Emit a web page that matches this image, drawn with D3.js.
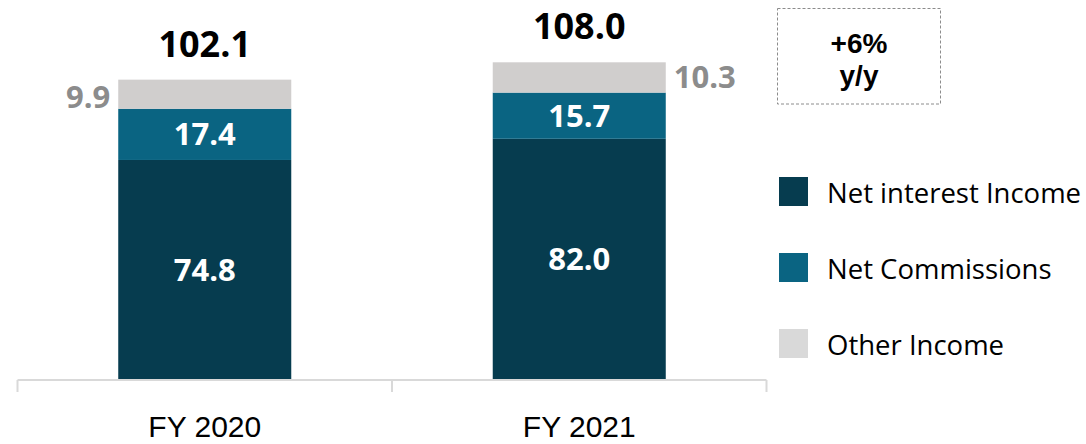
<!DOCTYPE html>
<html>
<head>
<meta charset="utf-8">
<script src="https://cdn.jsdelivr.net/npm/d3@7"></script>
<style>
  html, body { margin: 0; padding: 0; background: #fff; }
  svg { display: block; }
  text { font-family: "Open Sans", "Liberation Sans", sans-serif; }
</style>
</head>
<body>
<svg id="chart" width="1086" height="444"></svg>
<script>
const categories = ["FY 2020", "FY 2021"];
const seriesNames = ["Net interest Income", "Net Commissions", "Other Income"];
const netInterest = [74.8, 82.0];
const netCommissions = [17.4, 15.7];
const otherIncome = [9.9, 10.3];
const totals = [102.1, 108.0];
const growthLabel = ["+6%", "y/y"];

const colors = {
  "Net interest Income": "#063c4f",
  "Net Commissions": "#0a6482",
  "Other Income": "#d0cecd"
};
const legendColors = {
  "Net interest Income": "#063c4f",
  "Net Commissions": "#0a6482",
  "Other Income": "#d9d9d9"
};

const svg = d3.select("#chart");

const x = d3.scaleBand().domain(categories).range([17.5, 766.5]).padding(0);
const barW = x.bandwidth() * 0.462;
const y = d3.scaleLinear().domain([0, 108]).range([380, 62.3]);

const rows = categories.map((c, i) => ({
  cat: c,
  "Net interest Income": netInterest[i],
  "Net Commissions": netCommissions[i],
  "Other Income": otherIncome[i],
  total: totals[i]
}));
const stacked = d3.stack().keys(seriesNames)(rows);

// bars
const g = svg.append("g");
stacked.forEach(layer => {
  g.selectAll(null).data(layer).enter().append("rect")
    .attr("x", d => x(d.data.cat) + (x.bandwidth() - barW) / 2)
    .attr("width", barW)
    .attr("y", d => y(d[1]))
    .attr("height", d => y(d[0]) - y(d[1]))
    .attr("fill", colors[layer.key]);
});

// axis
const axisG = svg.append("g").attr("transform", "translate(0,380)");
axisG.append("line").attr("x1", 17.5).attr("x2", 766.5).attr("y1", 0).attr("y2", 0)
  .attr("stroke", "#d9d9d9").attr("stroke-width", 2);
const bounds = categories.map(c => x(c)).concat([x(categories[categories.length - 1]) + x.bandwidth()]);
axisG.selectAll("line.tick").data(bounds).enter().append("line")
  .attr("class", "tick")
  .attr("x1", d => d).attr("x2", d => d).attr("y1", 0).attr("y2", 12)
  .attr("stroke", "#d9d9d9").attr("stroke-width", 2);
svg.selectAll("text.xlab").data(categories).enter().append("text")
  .attr("class", "xlab")
  .attr("x", d => x(d) + x.bandwidth() / 2)
  .attr("y", 437)
  .attr("text-anchor", "middle")
  .attr("font-size", 30)
  .style("font-family", "'Liberation Sans', Arial, sans-serif")
  .attr("fill", "#000")
  .text(d => d);

// inner labels (white)
[0, 1].forEach(k => {
  const layer = stacked[k];
  svg.selectAll(null).data(layer).enter().append("text")
    .attr("x", d => x(d.data.cat) + x.bandwidth() / 2)
    .attr("y", d => (y(d[0]) + y(d[1])) / 2 + 11)
    .attr("text-anchor", "middle")
    .attr("font-size", 31)
    .attr("font-weight", "bold")
    .attr("fill", "#fff")
    .text(d => d3.format(".1f")(d.data[layer.key]));
});

// other income labels (gray, outside)
const otherLayer = stacked[2];
svg.selectAll(null).data(otherLayer).enter().append("text")
  .attr("x", (d, i) => i === 0 ? x(d.data.cat) + (x.bandwidth() - barW) / 2 - 8 : x(d.data.cat) + (x.bandwidth() + barW) / 2 + 8)
  .attr("y", (d, i) => (y(d[0]) + y(d[1])) / 2 + 11 + (i === 0 ? 3 : 0))
  .attr("text-anchor", (d, i) => i === 0 ? "end" : "start")
  .attr("font-size", 31)
  .attr("font-weight", "bold")
  .attr("fill", "#8c8c8c")
  .text(d => d3.format(".1f")(d.data["Other Income"]));

// totals
svg.selectAll(null).data(rows).enter().append("text")
  .attr("x", d => x(d.cat) + x.bandwidth() / 2)
  .attr("y", d => y(d.total) - 23)
  .attr("text-anchor", "middle")
  .attr("font-size", 36)
  .attr("font-weight", "bold")
  .attr("fill", "#000")
  .text(d => d3.format(".1f")(d.total));

// growth box
svg.append("rect").attr("x", 777.5).attr("y", 8.5).attr("width", 163).attr("height", 95.5)
  .attr("fill", "none").attr("stroke", "#8c8c8c").attr("stroke-width", 1)
  .attr("stroke-dasharray", "3,2");
svg.selectAll(null).data(growthLabel).enter().append("text")
  .attr("x", 859)
  .attr("y", (d, i) => 53 + i * 32)
  .attr("text-anchor", "middle")
  .attr("font-size", 28)
  .attr("font-weight", "bold")
  .style("font-family", "'Liberation Sans', Arial, sans-serif")
  .attr("fill", "#000")
  .text(d => d);

// legend
const leg = svg.selectAll("g.leg").data(seriesNames).enter().append("g")
  .attr("class", "leg")
  .attr("transform", (d, i) => `translate(779,${177 + i * 76})`);
leg.append("rect").attr("width", 29).attr("height", 29).attr("fill", d => legendColors[d]);
leg.append("text").attr("x", 48).attr("y", 26).attr("font-size", 27.5).attr("fill", "#000").text(d => d);
</script>
</body>
</html>
